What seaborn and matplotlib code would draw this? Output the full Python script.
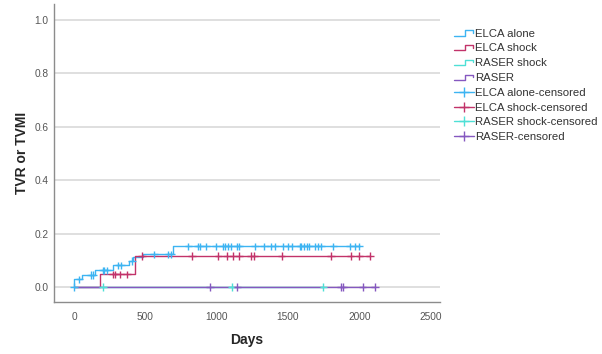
import numpy as np
import pandas as pd
import seaborn as sns
import matplotlib.pyplot as plt
from matplotlib.lines import Line2D
from matplotlib.legend_handler import HandlerBase

# cumulative incidence curves (event days and level reached at each event)
groups = ["ELCA alone", "ELCA shock", "RASER shock", "RASER"]
colors = ["#3db4f2", "#c2336a", "#4ee0d6", "#8558c0"]

elca_alone_events = [0, 58, 147, 276, 388, 416, 486, 692]
elca_alone_levels = [0.029, 0.046, 0.063, 0.082, 0.098, 0.113, 0.123, 0.153]
elca_alone_censored = [0, 37, 117, 131, 203, 212, 229, 311, 330, 405, 561, 661, 678,
                       802, 868, 884, 926, 996, 1043, 1059, 1078, 1099, 1141, 1155,
                       1269, 1332, 1379, 1410, 1468, 1503, 1531, 1585, 1592, 1613,
                       1632, 1648, 1690, 1713, 1732, 1819, 1935, 1970, 1999]
elca_alone_end = 2003

elca_shock_events = [182, 428]
elca_shock_levels = [0.048, 0.116]
elca_shock_censored = [271, 290, 323, 370, 475, 825, 1012, 1071, 1117, 1159, 1239,
                       1264, 1456, 1800, 1940, 2001, 2076]
elca_shock_end = 2076

raser_shock_events = []
raser_shock_levels = []
raser_shock_censored = [201, 1106, 1748]
raser_shock_end = 1748

raser_events = []
raser_levels = []
raser_censored = [954, 1145, 1872, 1889, 2024, 2111]
raser_end = 2111

curves = {
    "ELCA alone": (elca_alone_events, elca_alone_levels, elca_alone_censored, elca_alone_end),
    "ELCA shock": (elca_shock_events, elca_shock_levels, elca_shock_censored, elca_shock_end),
    "RASER shock": (raser_shock_events, raser_shock_levels, raser_shock_censored, raser_shock_end),
    "RASER": (raser_events, raser_levels, raser_censored, raser_end),
}


def level_at(events, levels, t):
    # level of the curve just before day t
    lvl = 0.0
    for e, l in zip(events, levels):
        if e < t:
            lvl = l
    return lvl


step_rows = []
cens_rows = []
for g, (ev, lv, cens, end) in curves.items():
    step_rows.append((g, 0, 0.0))
    for e, l in zip(ev, lv):
        step_rows.append((g, e, l))
    step_rows.append((g, end, lv[-1] if lv else 0.0))
    for c in cens:
        cens_rows.append((g, c, level_at(ev, lv, c)))

steps = pd.DataFrame(step_rows, columns=["group", "day", "value"])
cens = pd.DataFrame(cens_rows, columns=["group", "day", "value"])


class StepHandler(HandlerBase):
    def create_artists(self, legend, orig_handle, xdescent, ydescent, width, height,
                       fontsize, trans):
        x0, y0 = -xdescent, -ydescent
        xs = [x0, x0 + 0.55 * width, x0 + 0.55 * width, x0 + 0.92 * width, x0 + 0.92 * width]
        ys = [y0 + 0.15 * height, y0 + 0.15 * height, y0 + 0.8 * height,
              y0 + 0.8 * height, y0 + 0.5 * height]
        line = Line2D(xs, ys, color=orig_handle.get_color(), lw=orig_handle.get_linewidth())
        line.set_transform(trans)
        return [line]


sns.set_style("white")
plt.rcParams["font.family"] = ["Liberation Sans", "DejaVu Sans"]

fig = plt.figure(figsize=(6.02, 3.54), dpi=100)
ax = fig.add_axes([0.09, 0.147, 0.641, 0.841])

palette = dict(zip(groups, colors))
sns.lineplot(data=steps, x="day", y="value", hue="group", hue_order=groups,
             palette=palette, drawstyle="steps-post", estimator=None, sort=False,
             linewidth=1.0, legend=False, ax=ax, zorder=3)
sns.scatterplot(data=cens, x="day", y="value", hue="group", hue_order=groups,
                palette=palette, marker="+", s=30, linewidth=1.0, legend=False,
                ax=ax, zorder=4)

ax.set_xlim(-140, 2567)
ax.set_ylim(-0.055, 1.058)
ax.set_xticks([0, 500, 1000, 1500, 2000, 2500])
ax.set_yticks([0.0, 0.2, 0.4, 0.6, 0.8, 1.0])
ax.set_yticklabels(["0.0", "0.2", "0.4", "0.6", "0.8", "1.0"])
ax.yaxis.grid(True, color="#d9d9d9", linewidth=1.2, zorder=0)
ax.xaxis.grid(False)
ax.tick_params(axis="both", labelsize=7.3, colors="#555555", length=0)
ax.tick_params(axis="y", pad=4)
ax.tick_params(axis="x", pad=7)
for side in ["top", "right"]:
    ax.spines[side].set_visible(False)
for side in ["left", "bottom"]:
    ax.spines[side].set_color("#8c8c8c")
    ax.spines[side].set_linewidth(1.0)

ax.set_xlabel("Days", fontsize=10, fontweight="bold", labelpad=8)
ax.set_ylabel("TVR or TVMI", fontsize=10, fontweight="bold")
ax.yaxis.set_label_coords(-0.065, 0.5)

step_handles = [Line2D([], [], color=c, lw=1.0) for c in colors]
cens_handles = [Line2D([], [], color=c, lw=1.0, marker="+", markersize=7) for c in colors]
labels = groups + [g + "-censored" for g in groups]
handler_map = {h: StepHandler() for h in step_handles}
leg = fig.legend(step_handles + cens_handles, labels, handler_map=handler_map,
                 loc="upper left", bbox_to_anchor=(0.745, 0.935), frameon=False,
                 fontsize=8.2, handlelength=1.75, handletextpad=0.12,
                 labelspacing=0.42, numpoints=1, borderpad=0)
for t in leg.get_texts():
    t.set_color("#333333")

fig.savefig("out.png", dpi=100)
